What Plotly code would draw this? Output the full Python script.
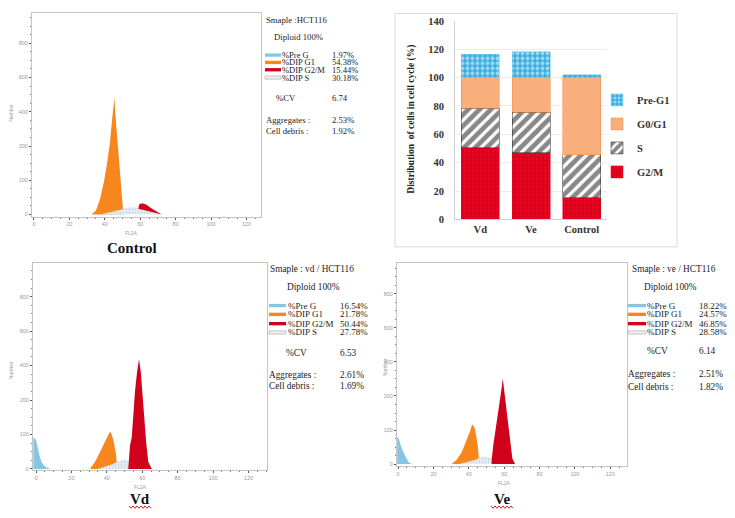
import plotly.graph_objects as go

# The page body adds an 8px margin, so the figure is drawn 8px smaller and
# all reference pixel positions are shifted by that offset.
OFF = 8
W, H = 735 - OFF, 518 - OFF


def px(x):
    return (x - OFF) / W


def py(y):
    return 1 - (y - OFF) / H


def clamp(v):
    return min(1.0, max(0.0, v))


# ---------------- stacked bar data ----------------
groups = ["Vd", "Ve", "Control"]
g2m = [50.44, 46.85, 15.44]
s_phase = [27.78, 28.58, 30.18]
g0g1 = [21.78, 24.57, 54.38]
pre_g1 = [16.54, 18.22, 1.97]

# ---------------- histogram tick labels ----------------
hist_y_tickvals = [0, 100, 200, 300, 400, 500]
hist_y_ticktext = ["0", "100", "200", "400", "600", "800"]
hist_x_tickvals = [0, 20, 40, 60, 80, 100, 120]

# ---------------- histogram peak outlines ----------------
ctrl_g1_x = [32.6, 35, 37.3, 39.5, 41.3, 42.9, 44.2, 45.4, 46.3, 47.2, 48.3, 49.4, 50.3, 50.5]
ctrl_g1_y = [0, 12, 45, 95, 150, 210, 280, 340, 270, 210, 140, 70, 15, 0]
ctrl_s_x = [37.9, 42, 46, 50, 54, 58, 62, 66, 71]
ctrl_s_y = [0, 5, 11, 16, 20, 19, 15, 8, 0]
ctrl_g2_x = [58.9, 59.4, 61.1, 63.3, 66.7, 70.0, 72.2, 70.0, 66.0, 62.0, 59.0]
ctrl_g2_y = [16, 29, 33, 29, 17, 6, 0, 3, 8, 14, 17]

vd_pre_x = [-1.5, -1.5, 0, 1, 2, 3, 4.5, 6, 8]
vd_pre_y = [0, 92, 85, 60, 38, 22, 10, 4, 0]
vd_g1_x = [30.5, 33.3, 36.2, 39.0, 40.7, 41.8, 42.5, 43.7, 44.6, 45.3, 45.9]
vd_g1_y = [0, 20, 49, 82, 98, 108, 103, 85, 65, 40, 0]
vd_s_x = [35, 39, 43, 46, 49.3, 52, 55, 58.8]
vd_s_y = [0, 6, 13, 20, 26, 22, 12, 0]
vd_g2_x = [52.1, 52.4, 53.1, 54.1, 55.0, 55.9, 57.1, 58.2, 59.2, 60.0, 60.8, 62.2, 63.4, 65.4]
vd_g2_y = [0, 26, 68, 92, 163, 224, 281, 319, 281, 224, 163, 80, 21, 0]

ve_pre_x = [-0.5, -0.5, 0.5, 1.5, 3, 4.5, 5.8, 7, 8.6]
ve_pre_y = [0, 80, 74, 55, 35, 18, 7, 2, 0]
ve_g1_x = [30.3, 33, 36, 39.2, 40.8, 41.8, 42.7, 43.5, 44.3, 45, 45.9, 46]
ve_g1_y = [0, 12, 35, 74, 98, 116, 112, 103, 80, 55, 7, 0]
ve_s_x = [35, 39, 43, 46, 49.2, 52, 55, 58.6]
ve_s_y = [0, 5, 11, 17, 21, 18, 10, 0]
ve_g2_x = [52.9, 52.9, 53.8, 55.8, 57.6, 58.5, 59.2, 59.9, 61.0, 62.9, 64.6, 66.1]
ve_g2_y = [0, 11, 55, 122, 179, 221, 251, 221, 170, 83, 16, 0]

# ---------------- info text ----------------
phase_labels = ["%Pre G", "%DIP G1", "%DIP G2/M", "%DIP S"]
ctrl_vals = ["1.97%", "54.38%", "15.44%", "30.18%"]
vd_vals = ["16.54%", "21.78%", "50.44%", "27.78%"]
ve_vals = ["18.22%", "24.57%", "46.85%", "28.58%"]

C_PRE = "#86c5e3"
C_G1 = "#f7861c"
C_G2 = "#d0021b"

fig = go.Figure()


def add_hist(n, pre, g1, s, g2):
    xa = "x" if n == 1 else f"x{n}"
    ya = "y" if n == 1 else f"y{n}"
    if pre is not None:
        fig.add_trace(go.Scatter(x=pre[0], y=pre[1], fill="toself", fillcolor=C_PRE,
                                 mode="lines", line=dict(width=0), xaxis=xa, yaxis=ya,
                                 showlegend=False, hoverinfo="skip"))
    fig.add_trace(go.Scatter(x=g1[0], y=g1[1], fill="toself", fillcolor=C_G1,
                             mode="lines", line=dict(width=0), xaxis=xa, yaxis=ya,
                             showlegend=False, hoverinfo="skip"))
    fig.add_trace(go.Scatter(x=s[0], y=s[1], fill="toself",
                             fillpattern=dict(shape=".", fgcolor="#9fb9d3", bgcolor="#e9eff6",
                                              size=3, solidity=0.35),
                             mode="lines", line=dict(width=0.5, color="#c9d6e3"), xaxis=xa, yaxis=ya,
                             showlegend=False, hoverinfo="skip"))
    fig.add_trace(go.Scatter(x=g2[0], y=g2[1], fill="toself", fillcolor=C_G2,
                             mode="lines", line=dict(width=0), xaxis=xa, yaxis=ya,
                             showlegend=False, hoverinfo="skip"))


add_hist(1, None, (ctrl_g1_x, ctrl_g1_y), (ctrl_s_x, ctrl_s_y), (ctrl_g2_x, ctrl_g2_y))
add_hist(2, (vd_pre_x, vd_pre_y), (vd_g1_x, vd_g1_y), (vd_s_x, vd_s_y), (vd_g2_x, vd_g2_y))
add_hist(3, (ve_pre_x, ve_pre_y), (ve_g1_x, ve_g1_y), (ve_s_x, ve_s_y), (ve_g2_x, ve_g2_y))

# ---------------- stacked bars ----------------
bar_font = dict(family="Liberation Serif", size=10.5, color="#333333", weight="bold")
fig.add_trace(go.Bar(x=groups, y=g2m, name="G2/M", xaxis="x4", yaxis="y4",
                     legendgroup="g2m", legendrank=4,
                     marker=dict(color="#e0001b", line=dict(width=0.5, color="#e0001b"),
                                 pattern=dict(shape=".", fgcolor="#ea3a4c", bgcolor="#e0001b",
                                              size=4, solidity=0.12))))
fig.add_trace(go.Bar(x=groups, y=s_phase, name="S", xaxis="x4", yaxis="y4",
                     legendgroup="s", legendrank=3,
                     marker=dict(color="white", line=dict(width=0.5, color="#222222"),
                                 pattern=dict(shape="/", fgcolor="#111111", bgcolor="white",
                                              size=8, solidity=0.6))))
fig.add_trace(go.Bar(x=groups, y=g0g1, name="G0/G1", xaxis="x4", yaxis="y4",
                     legendgroup="g1", legendrank=2,
                     marker=dict(color="#f9a66c", line=dict(width=0.5, color="#f08a3c"),
                                 pattern=dict(shape="x", fgcolor="#f4944f", bgcolor="#f9b080",
                                              size=3, solidity=0.2))))
fig.add_trace(go.Bar(x=groups, y=pre_g1, name="Pre-G1", xaxis="x4", yaxis="y4",
                     legendgroup="pre", legendrank=1,
                     marker=dict(color="#3aaee2", line=dict(width=0.5, color="#6cc4ea"),
                                 pattern=dict(shape=".", fgcolor="white", bgcolor="#3aaee2",
                                              size=5, solidity=0.45))))


# ---------------- axes ----------------
def hist_axes(xdom, ydom, xr, yr, anchor_x, anchor_y):
    tick_font = dict(family="Liberation Sans", size=5.5, color="#9a9a9a")
    xa = dict(domain=[clamp(v) for v in xdom], range=xr, anchor=anchor_y, showline=True, mirror=True,
              linecolor="#c4c4c4", linewidth=1, tickmode="array", tickvals=hist_x_tickvals,
              ticks="outside", ticklen=2, tickcolor="#555", tickfont=tick_font,
              showgrid=False, zeroline=False,
              minor=dict(ticks="outside", ticklen=1, tickcolor="#777", tickmode="linear",
                         tick0=0, dtick=5, showgrid=False))
    ya = dict(domain=[clamp(v) for v in ydom], range=yr, anchor=anchor_x, showline=True, mirror=True,
              linecolor="#c4c4c4", linewidth=1, tickmode="array", tickvals=hist_y_tickvals,
              ticktext=hist_y_ticktext, ticks="outside", ticklen=2, tickcolor="#555",
              tickfont=tick_font, showgrid=False, zeroline=False,
              minor=dict(ticks="outside", ticklen=1, tickcolor="#777", tickmode="linear",
                         tick0=0, dtick=25, showgrid=False))
    return xa, ya


# control frame top is at the page edge (y=8 after the body margin)
xa1, ya1 = hist_axes([px(32), px(261)], [py(216), py(8)], [-1.1, 128.2], [-5.7, 588], "x", "y")
xa2, ya2 = hist_axes([px(33), px(267)], [py(475), py(263)], [-1.7, 130.5], [-2.8, 599], "x2", "y2")
xa3, ya3 = hist_axes([px(397), px(627)], [py(471), py(263)], [-0.6, 129.4], [-5.7, 592], "x3", "y3")

fig.update_layout(
    width=W, height=H,
    margin=dict(l=0, r=0, t=0, b=0),
    paper_bgcolor="white", plot_bgcolor="white",
    barmode="stack", bargap=0.25,
    xaxis=xa1, yaxis=ya1, xaxis2=xa2, yaxis2=ya2, xaxis3=xa3, yaxis3=ya3,
    xaxis4=dict(domain=[px(455), px(607)], anchor="y4", type="category", showline=True,
                linecolor="#d0d0d0", tickfont=bar_font, ticks="", showgrid=False),
    yaxis4=dict(domain=[py(219), py(16)], anchor="x4", range=[0, 140], dtick=20,
                showgrid=True, gridcolor="#ececec", showline=True, linecolor="#d0d0d0",
                tickfont=bar_font, ticks="", ticklabelstandoff=8, zeroline=False),
    legend=dict(x=px(597), y=py(82), xanchor="left", yanchor="top", font=bar_font,
                traceorder="grouped", tracegroupgap=5, bgcolor="rgba(0,0,0,0)"),
    showlegend=True,
)

annotations = []
shapes = []

serif = "Liberation Serif"


def txt(x, y, s, size=9, color="#222222", xanchor="left", bold=False, angle=0, family=serif):
    annotations.append(dict(x=px(x), y=py(y), xref="paper", yref="paper", text=s,
                            showarrow=False, xanchor=xanchor, yanchor="middle", textangle=angle,
                            borderpad=0,
                            font=dict(family=family, size=size, color=color,
                                      weight="bold" if bold else "normal")))


def info_block(x_left, title, title_y, diploid_x, diploid_y, sw_x0, sw_x1, lab_x, rows_y,
               val_x, vals, cv_x, cv_y, cv, agg_x, agg_y, agg, deb_y, deb, size, row_size):
    txt(x_left, title_y, title, size)
    txt(diploid_x, diploid_y, "Diploid 100%", size)
    colors = [C_PRE, C_G1, C_G2, None]
    for lab, v, yy, c in zip(phase_labels, vals, rows_y, colors):
        if c is None:
            shapes.append(dict(type="rect", xref="paper", yref="paper",
                               x0=px(sw_x0), x1=px(sw_x1), y0=py(yy + 1.6), y1=py(yy - 1.6),
                               line=dict(color="#b8b8b8", width=0.8), fillcolor="#f0f0f0"))
        else:
            shapes.append(dict(type="rect", xref="paper", yref="paper",
                               x0=px(sw_x0), x1=px(sw_x1), y0=py(yy + 1.7), y1=py(yy - 1.7),
                               line=dict(width=0), fillcolor=c))
        txt(lab_x, yy, lab, row_size)
        txt(val_x, yy, v, row_size)
    txt(cv_x, cv_y, "%CV", size)
    txt(val_x, cv_y, cv, size)
    txt(agg_x, agg_y, "Aggregates :", size)
    txt(val_x, agg_y, agg, size)
    txt(agg_x, deb_y, "Cell debris :", size)
    txt(val_x, deb_y, deb, size)


info_block(265, "Smaple :HCT116", 15, 273, 33, 265, 281, 281, [51, 58.5, 66, 74],
           331, ctrl_vals, 275, 95, "6.74", 265, 117, "2.53%", 128.5, "1.92%", 8.7, 8.5)
info_block(269, "Smaple : vd / HCT116", 270, 286, 288, 269, 286, 287, [307, 316, 325.5, 334.5],
           339, vd_vals, 285, 356, "6.53", 268, 377.5, "2.61%", 389, "1.69%", 9.3, 9)
info_block(631, "Smaple : ve / HCT116", 270, 643, 288, 628, 646, 646, [307, 316, 325.5, 334.5],
           698, ve_vals, 646, 353, "6.14", 627, 377, "2.51%", 390, "1.82%", 9.3, 9)

# axis titles of histograms
gray = "#a0a0a0"
txt(131.7, 233, "FL2A", 5, gray, "center", family="Liberation Sans")
txt(140, 492, "FL2A", 5, gray, "center", family="Liberation Sans")
txt(505, 488, "FL2A", 5, gray, "center", family="Liberation Sans")
txt(11, 110, "Number", 5, gray, "center", angle=-90, family="Liberation Sans")
txt(11, 373, "Number", 5, gray, "center", angle=-90, family="Liberation Sans")
txt(385, 370, "Number", 5, gray, "center", angle=-90, family="Liberation Sans")

# panel labels
txt(132, 248, "Control", 15, "#111111", "center", bold=True)
txt(140, 505, "Vd", 15, "#111111", "center", bold=True)
txt(502, 505, "Ve", 15, "#111111", "center", bold=True)

# bar chart y title
txt(412, 117, "Distribution  of cells in cell cycle (%)", 9.5, "#222222", "center", bold=True, angle=-90)

# bar chart frame
shapes.append(dict(type="rect", xref="paper", yref="paper", x0=px(395), x1=px(677),
                   y0=py(247), y1=py(8.5), line=dict(color="#dadada", width=1), fillcolor="rgba(0,0,0,0)"))


def wavy(x0, x1, y):
    pts = []
    x = x0
    i = 0
    while x <= x1:
        pts.append((x, y + (1.2 if i % 2 else -1.2)))
        x += 2
        i += 1
    path = "M " + " L ".join(f"{px(a):.5f},{py(b):.5f}" for a, b in pts)
    shapes.append(dict(type="path", xref="paper", yref="paper", path=path,
                       line=dict(color="#e02020", width=1)))


wavy(129, 151, 513)
wavy(491, 513, 513)

fig.update_layout(annotations=annotations, shapes=shapes)
fig.write_html("out.html")
